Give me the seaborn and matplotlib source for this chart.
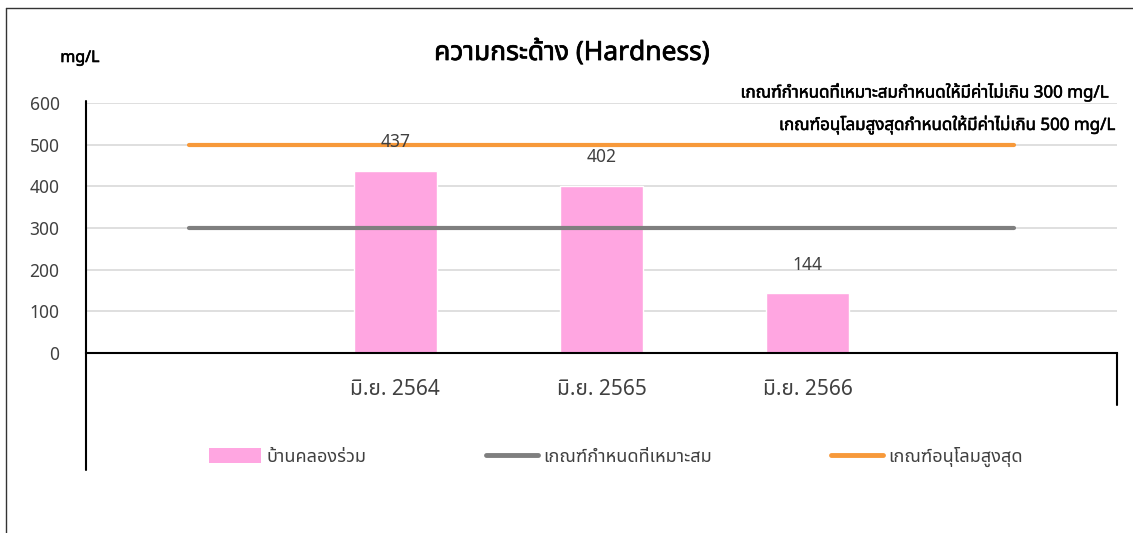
import numpy as np
import pandas as pd
import matplotlib
matplotlib.use("Agg")
import matplotlib.pyplot as plt
from matplotlib import font_manager
from matplotlib import patheffects
from matplotlib.lines import Line2D
from matplotlib.patches import Patch
import seaborn as sns

# ---- data -------------------------------------------------------------
periods = [" ", "มิ.ย. 2564", "มิ.ย. 2565", "มิ.ย. 2566", "  "]
hardness = [np.nan, 437, 402, 144, np.nan]
suitable_limit = [300, 300, 300, 300, 300]
max_allowed_limit = [500, 500, 500, 500, 500]
y_ticks = [0, 100, 200, 300, 400, 500, 600]

series_name = "บ้านคลองร่วม"
suitable_name = "เกณฑ์กำหนดที่เหมาะสม"
max_name = "เกณฑ์อนุโลมสูงสุด"
title = "ความกระด้าง (Hardness)"
unit = "mg/L"
note_suitable = "เกณฑ์กำหนดที่เหมาะสมกำหนดให้มีค่าไม่เกิน 300 mg/L"
note_max = "เกณฑ์อนุโลมสูงสุดกำหนดให้มีค่าไม่เกิน 500 mg/L"

BAR_COLOR = "#FFA6E1"
GRAY = "#7F7F7F"
ORANGE = "#F7993A"
TEXT = "#404040"


def thai_family():
    """Return the name of an installed family that covers Thai script."""
    try:
        from fontTools.ttLib import TTFont
    except Exception:
        return None
    found = []
    seen = set()
    for entry in font_manager.fontManager.ttflist:
        if entry.name in seen:
            continue
        seen.add(entry.name)
        try:
            font = TTFont(entry.fname, fontNumber=0, lazy=True)
            cmap = font.getBestCmap()
        except Exception:
            continue
        if cmap and 0x0E01 in cmap and 0x0E49 in cmap:
            found.append(entry.name)
    preferred = ["Tahoma", "Leelawadee UI", "Noto Sans Thai", "Noto Sans Thai UI",
                 "Sarabun", "Loma", "Garuda", "Waree", "Umpush", "Noto Sans"]
    for name in preferred:
        if name in found:
            return name
    return found[0] if found else None


sns.set_theme(style="white")
thai = thai_family()
families = ([thai] if thai else []) + ["DejaVu Sans"]
plt.rcParams["font.family"] = families

# heavier strokes for headings (the Thai face ships a single weight)
def bold(width):
    return [patheffects.withStroke(linewidth=width, foreground="black")]


W, H = 1133, 533
fig = plt.figure(figsize=(W / 100, H / 100), dpi=100)


def fx(x):
    return x / W


def fy(y):
    return 1 - y / H


ax = fig.add_axes([fx(86), fy(353), fx(1117) - fx(86), fy(103) - fy(353)])

df = pd.DataFrame({"period": periods, "hardness": hardness})
sns.barplot(data=df, x="period", y="hardness", order=periods, color=BAR_COLOR,
            width=0.4, saturation=1, ax=ax, errorbar=None, zorder=2)

xpos = np.arange(len(periods))
sns.lineplot(x=xpos, y=suitable_limit, color=GRAY, linewidth=3, ax=ax,
             solid_capstyle="round", zorder=3)
sns.lineplot(x=xpos, y=max_allowed_limit, color=ORANGE, linewidth=3, ax=ax,
             solid_capstyle="round", zorder=3)

# value labels above bars
for cont in ax.containers:
    labels = ["" if np.isnan(v) else f"{v:.0f}" for v in cont.datavalues]
    ax.bar_label(cont, labels=labels, padding=14, fontsize=12.5, color=TEXT)

ax.set_xlim(-0.5, len(periods) - 0.5)
ax.set_ylim(0, 600)
ax.set_yticks(y_ticks)
ax.set_xlabel("")
ax.set_ylabel("")
ax.yaxis.grid(True, color="#D9D9D9", linewidth=1.2, zorder=0)
ax.set_axisbelow(True)
ax.tick_params(axis="y", length=0, pad=19, labelsize=12.5, labelcolor=TEXT)
ax.tick_params(axis="x", length=0, pad=19, labelsize=15, labelcolor=TEXT)

for side in ["top", "right", "left"]:
    ax.spines[side].set_visible(False)
ax.spines["bottom"].set_color("black")
ax.spines["bottom"].set_linewidth(1.5)
ax.spines["bottom"].set_zorder(4)

# vertical frame lines around the plotting area
fig.add_artist(Line2D([fx(86), fx(86)], [fy(101), fy(470)], color="black", lw=1.5))
fig.add_artist(Line2D([fx(1117), fx(1117)], [fy(353), fy(405)], color="black", lw=1.5))
# outer chart border
fig.add_artist(Line2D([fx(6), fx(6)], [fy(8), 0], color="#333333", lw=1))
fig.add_artist(Line2D([fx(6), 1], [fy(8), fy(8)], color="#333333", lw=1))

# titles and notes
fig.text(fx(572), fy(53), title, ha="center", va="center", fontsize=19,
         color="black", path_effects=bold(0.55))
fig.text(fx(80), fy(58), unit, ha="center", va="center", fontsize=11.5,
         color="black", path_effects=bold(0.45))
fig.text(fx(1108), fy(92), note_suitable, ha="right", va="center", fontsize=12.2,
         color="black", path_effects=bold(0.4))
fig.text(fx(1115), fy(125), note_max, ha="right", va="center", fontsize=12.2,
         color="black", path_effects=bold(0.4))

handles = [Patch(facecolor=BAR_COLOR, edgecolor="none"),
           Line2D([], [], color=GRAY, lw=3.5),
           Line2D([], [], color=ORANGE, lw=3.5)]
fig.legend(handles, [series_name, suitable_name, max_name], ncol=3,
           loc="center", bbox_to_anchor=(fx(616), fy(457)), frameon=False,
           fontsize=13, handlelength=2.9, handleheight=0.9, handletextpad=0.28,
           columnspacing=6.6, labelcolor=TEXT)

fig.savefig("out.png", dpi=100)
